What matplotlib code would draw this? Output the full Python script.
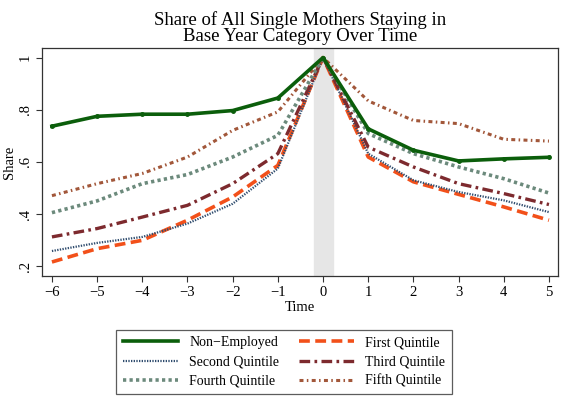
import numpy as np
import matplotlib
matplotlib.use("Agg")
import matplotlib.pyplot as plt
import matplotlib.ticker as tck

plt.rcParams["font.family"] = ["Liberation Serif", "DejaVu Serif"]

time = [-6, -5, -4, -3, -2, -1, 0, 1, 2, 3, 4, 5]

non_employed = [0.737, 0.775, 0.783, 0.783, 0.797, 0.845, 1.0, 0.727, 0.645, 0.604, 0.612, 0.618]
first_q = [0.217, 0.268, 0.300, 0.377, 0.466, 0.587, 1.0, 0.619, 0.524, 0.476, 0.428, 0.377]
second_q = [0.259, 0.290, 0.313, 0.364, 0.440, 0.575, 1.0, 0.632, 0.530, 0.485, 0.453, 0.408]
third_q = [0.313, 0.345, 0.389, 0.434, 0.517, 0.632, 1.0, 0.657, 0.581, 0.517, 0.479, 0.437]
fourth_q = [0.406, 0.451, 0.517, 0.552, 0.619, 0.702, 1.0, 0.709, 0.632, 0.581, 0.536, 0.481]
fifth_q = [0.471, 0.517, 0.556, 0.619, 0.721, 0.792, 1.0, 0.834, 0.759, 0.747, 0.687, 0.680]

fig = plt.figure(figsize=(5.63, 3.98), dpi=100)
ax = fig.add_axes([0.0746, 0.307, 0.9165, 0.572])

ax.axvspan(-0.21, 0.21, color="#e6e6e6", zorder=0)

h_ne, = ax.plot(time, non_employed, color="#0b5e0b", lw=2.6, label="Non\u2212Employed", zorder=6)
ax.plot(time, non_employed, ls="none", marker="o", ms=2.5, color="#0b5e0b", zorder=6)
h_1, = ax.plot(time, first_q, color="#f2501a", lw=2.6, dashes=(3, 1.5), label="First Quintile")
h_2, = ax.plot(time, second_q, color="#2f4c6e", lw=1.6, dashes=(0.6, 0.6), label="Second Quintile")
h_3, = ax.plot(time, third_q, color="#7d2a2e", lw=2.4, dashes=(3.2, 1.3, 0.8, 1.3), label="Third Quintile")
h_4, = ax.plot(time, fourth_q, color="#6c8a7c", lw=2.6, dashes=(0.9, 0.9), label="Fourth Quintile")
h_5, = ax.plot(time, fifth_q, color="#a2573a", lw=2.2, dashes=(1.3, 1.1, 0.5, 1.1), label="Fifth Quintile")

ax.set_xlim(-6.22, 5.2)
ax.set_ylim(0.164, 1.036)
ax.set_xticks(range(-6, 6))
ax.xaxis.set_major_formatter(tck.FuncFormatter(lambda x, p: ("%d" % x).replace("-", "\u2212")))
ax.set_yticks([0.2, 0.4, 0.6, 0.8, 1.0])
ax.yaxis.set_major_formatter(tck.FuncFormatter(lambda y, p: "1" if y >= 0.999 else ("%.1f" % y).lstrip("0")))
ax.tick_params(axis="both", labelsize=10.5, length=4, width=0.8, color="#333333")
for lab in ax.get_yticklabels():
    lab.set_rotation(90)
    lab.set_va("center")
for s in ax.spines.values():
    s.set_linewidth(0.9)
    s.set_color("#333333")

ax.set_xlabel("Time", fontsize=10.5, labelpad=1)
ax.set_ylabel("Share", fontsize=10.5, labelpad=2)
ax.set_title("Share of All Single Mothers Staying in\nBase Year Category Over Time",
             fontsize=13.5, linespacing=0.95, pad=5)

# row-wise order: matplotlib fills legend columns first
handles = [h_ne, h_2, h_4, h_1, h_3, h_5]
leg = fig.legend(handles=handles, loc="upper center", bbox_to_anchor=(284 / 563, 1 - 323 / 398),
                 ncol=2, fontsize=10, frameon=True, fancybox=False,
                 handlelength=4.0, handletextpad=0.8, labelspacing=0.45, borderpad=0.45,
                 columnspacing=1.4, edgecolor="#333333")
leg.get_frame().set_linewidth(0.9)

fig.savefig("out.png", dpi=100)
